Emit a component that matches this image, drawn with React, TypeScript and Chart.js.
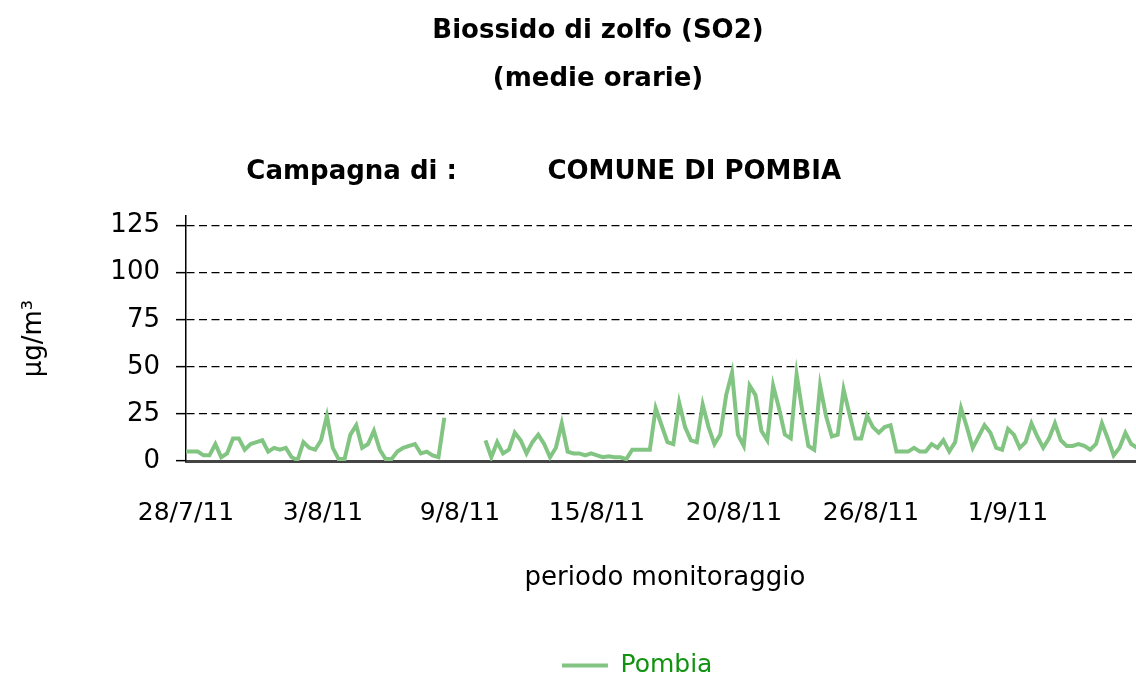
import React, { useEffect, useRef } from "react";
import { Chart, registerables } from "chart.js";

Chart.register(...registerables);

// ---- data ----
const SERIES_LABEL = "Pombia";
const SAMPLE_HOURS = 6; // one value every 6 hours, starting 28/7/11
const SO2_POMBIA: (number | null)[] = [
  5, 5, 5, 3, 3, 9, 2, 4, 12, 12, 6, 9, 10, 11, 5, 7, 6, 7, 2, 0.5,
  10, 7, 6, 11, 24, 7, 1, 1, 14, 19, 7, 9, 16, 6, 1, 1, 5, 7, 8, 9,
  4, 5, 3, 2, 23, null, null, null, null, null, null, 11, 2, 10, 4, 6, 15, 11, 4, 10,
  14, 9, 2, 7, 20, 5, 4, 4, 3, 4, 3, 2, 2.5, 2, 2, 1, 6, 6, 6, 6,
  28, 19, 10, 9, 31, 18, 11, 10, 30, 18, 9, 14, 35, 47, 14, 8, 40, 35, 16, 11,
  40, 28, 14, 12, 46, 26, 8, 6, 40, 24, 13, 14, 38, 25, 12, 12, 24, 18, 15, 18,
  19, 5, 5, 5, 7, 5, 5, 9, 7, 11, 5, 10, 28, 18, 7, 13, 19, 15, 7, 6,
  17, 14, 7, 10, 20, 13, 7, 12, 20, 11, 8, 8, 9, 8, 6, 9, 20, 12, 3, 7,
  15, 9, 7,
];
const TICK_LABELS = ["28/7/11", "3/8/11", "9/8/11", "15/8/11", "20/8/11", "26/8/11", "1/9/11"];
const TICK_STEP_HOURS = 140;
const X_MAX_HOURS = 979;
const Y_TICKS = [0, 25, 50, 75, 100, 125];
const Y_MAX = 130;

const TITLE_LINES = ["Biossido di zolfo (SO2)", "(medie orarie)"];
const SUBTITLE_LEFT = "Campagna di :";
const SUBTITLE_RIGHT = "COMUNE DI POMBIA";
const X_TITLE = "periodo monitoraggio";
const Y_TITLE = "µg/m³";

// ---- styles ----
const FONT = "'DejaVu Sans', sans-serif";
const LINE_COLOR = "#82c482";
const LEGEND_TEXT_COLOR = "#129212";
const CANVAS_W = 1196;
const CANVAS_H = 688;

export default function App() {
  const ref = useRef<HTMLCanvasElement>(null);

  useEffect(() => {
    document.body.style.margin = "0";
    const canvas = ref.current;
    if (!canvas) return;
    const points = SO2_POMBIA.map((v, i) => ({ x: i * SAMPLE_HOURS, y: v }));

    const chart = new Chart(canvas, {
      type: "line",
      data: {
        datasets: [
          {
            label: SERIES_LABEL,
            data: points as any,
            borderColor: LINE_COLOR,
            backgroundColor: LINE_COLOR,
            borderWidth: 4,
            pointRadius: 0,
            tension: 0,
            spanGaps: false,
          },
        ],
      },
      options: {
        animation: false,
        responsive: false,
        devicePixelRatio: 1,
        layout: { padding: { left: 52, right: 52, top: 0, bottom: 0 } },
        font: { family: FONT },
        plugins: {
          tooltip: { enabled: false },
          title: {
            display: true,
            text: TITLE_LINES,
            color: "#000",
            font: { family: FONT, size: 26, weight: "bold", lineHeight: 1.846 },
            padding: { top: 7, bottom: 50 },
          },
          subtitle: {
            display: true,
            text: SUBTITLE_LEFT + " ".repeat(10) + SUBTITLE_RIGHT + " ".repeat(12),
            color: "#000",
            font: { family: FONT, size: 26, weight: "bold", lineHeight: 1.2 },
            padding: { top: 4, bottom: 28 },
          },
          legend: {
            display: true,
            position: "bottom",
            fullSize: false,
            labels: {
              font: { family: FONT, size: 25 },
              color: LEGEND_TEXT_COLOR,
              boxWidth: 46,
              boxHeight: 4,
              padding: 10,
              generateLabels: (c: any) =>
                (Chart.defaults.plugins.legend.labels.generateLabels as any)(c).map((l: any) => ({
                  ...l,
                  text: l.text + " ".repeat(7),
                  fillStyle: LINE_COLOR,
                  strokeStyle: LINE_COLOR,
                  lineWidth: 0,
                  fontColor: LEGEND_TEXT_COLOR,
                })),
            },
          },
        },
        scales: {
          x: {
            type: "linear",
            min: 0,
            max: X_MAX_HOURS,
            afterBuildTicks: (scale: any) => {
              scale.ticks = TICK_LABELS.map((_, i) => ({ value: i * TICK_STEP_HOURS }));
            },
            afterFit: (scale: any) => {
              scale.height = 182;
            },
            ticks: {
              autoSkip: false,
              maxRotation: 0,
              padding: 37,
              color: "#000",
              font: { family: FONT, size: 25 },
              callback: (value: any) => TICK_LABELS[Math.round(Number(value) / TICK_STEP_HOURS)] ?? "",
            },
            grid: { display: false, drawTicks: false },
            border: { display: true, color: "#444", width: 3 },
            title: {
              display: true,
              text: X_TITLE,
              color: "#000",
              font: { family: FONT, size: 26, lineHeight: 1.2 },
              padding: { top: 20, bottom: 49 },
            },
          },
          y: {
            type: "linear",
            min: 0,
            max: Y_MAX,
            afterBuildTicks: (scale: any) => {
              scale.ticks = Y_TICKS.map((v) => ({ value: v }));
            },
            afterFit: (scale: any) => {
              scale.width = 134;
            },
            ticks: {
              padding: 16,
              color: "#000",
              font: { family: FONT, size: 26 },
            },
            grid: {
              display: true,
              drawTicks: true,
              tickLength: 10,
              tickColor: "#000",
              tickWidth: 1.5,
              tickBorderDash: [],
              lineWidth: 1.3,
              color: (ctx: any) => (ctx.tick && ctx.tick.value === 0 ? "rgba(0,0,0,0)" : "#000"),
            },
            border: { display: true, color: "#000", width: 1.5, dash: [8, 4.5] },
            title: {
              display: true,
              text: Y_TITLE,
              color: "#000",
              font: { family: FONT, size: 26, lineHeight: 1.2 },
              padding: { top: -33, bottom: 0 },
            },
          },
        },
      },
    });
    return () => chart.destroy();
  }, []);

  return (
    <div style={{ width: 1136, height: 678, overflow: "hidden", position: "relative" }}>
      <canvas
        ref={ref}
        width={CANVAS_W}
        height={CANVAS_H}
        style={{ display: "block", width: CANVAS_W, height: CANVAS_H }}
      />
    </div>
  );
}
